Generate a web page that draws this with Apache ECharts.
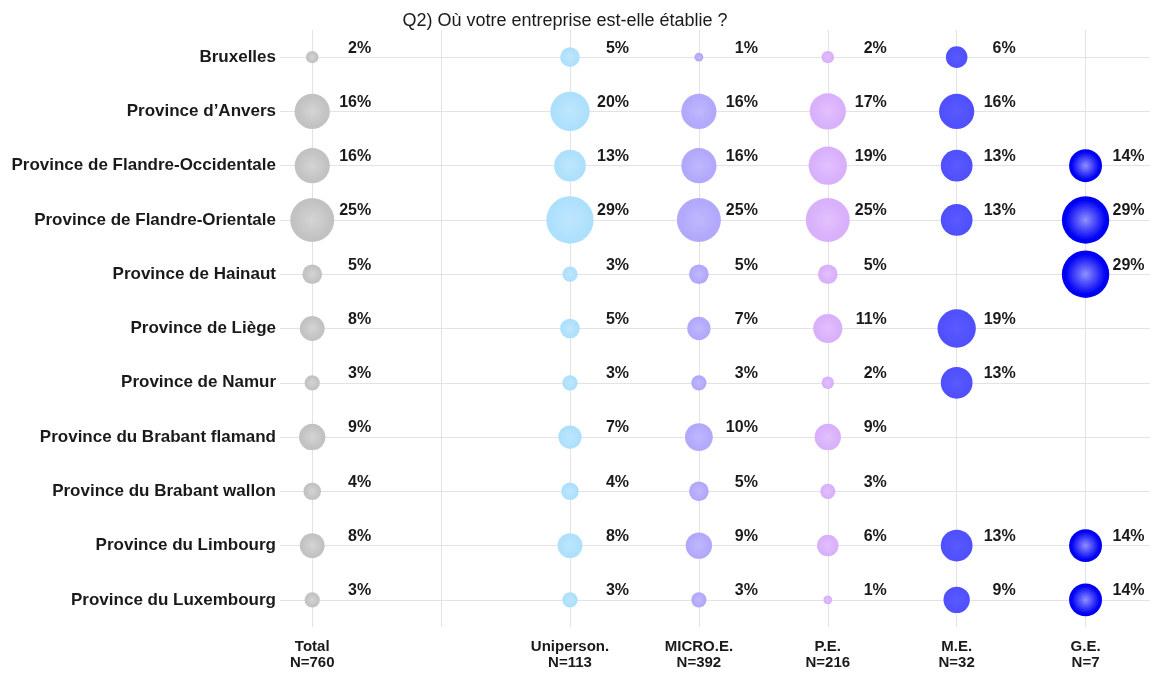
<!DOCTYPE html>
<html>
<head>
<meta charset="utf-8">
<script src="https://cdn.jsdelivr.net/npm/echarts@6/dist/echarts.min.js"></script>
<style>html,body{margin:0;padding:0;background:#fff}#c{width:1153px;height:673px}</style>
</head>
<body>
<div id="c"></div>
<script>
const titleText = 'Q2) Où votre entreprise est-elle établie ?';
const rows = ['Bruxelles', 'Province d\u2019Anvers', 'Province de Flandre-Occidentale', 'Province de Flandre-Orientale',
  'Province de Hainaut', 'Province de Liège', 'Province de Namur', 'Province du Brabant flamand',
  'Province du Brabant wallon', 'Province du Limbourg', 'Province du Luxembourg'];
const columns = ['Total\nN=760', '', 'Uniperson.\nN=113', 'MICRO.E.\nN=392', 'P.E.\nN=216', 'M.E.\nN=32', 'G.E.\nN=7'];
const total      = [2, 16, 16, 25, 5, 8, 3, 9, 4, 8, 3];
const uniperson  = [5, 20, 13, 29, 3, 5, 3, 7, 4, 8, 3];
const micro      = [1, 16, 16, 25, 5, 7, 3, 10, 5, 9, 3];
const pe         = [2, 17, 19, 25, 5, 11, 2, 9, 3, 6, 1];
const me         = [6, 16, 13, 13, null, 19, 13, null, null, 13, 9];
const ge         = [null, null, 14, 29, 29, null, null, null, null, 14, 14];

const seriesDefs = [
  {name: 'Total', col: 0, vals: total, c0: '#d4d4d4', c1: '#c2c2c2'},
  {name: 'Uniperson.', col: 2, vals: uniperson, c0: '#bfe6fd', c1: '#ade0fc'},
  {name: 'MICRO.E.', col: 3, vals: micro, c0: '#c0b8fd', c1: '#b2a8fc'},
  {name: 'P.E.', col: 4, vals: pe, c0: '#e2c0fd', c1: '#d8b0fc'},
  {name: 'M.E.', col: 5, vals: me, c0: '#5a5aff', c1: '#5050ff'},
  {name: 'G.E.', col: 6, vals: ge, c0: '#9090ff', c1: '#0000f5'}
];

const chart = echarts.init(document.getElementById('c'), null, {renderer: 'canvas'});

const series = seriesDefs.map(d => ({
  type: 'scatter',
  name: d.name,
  z: 3,
  data: d.vals.map((v, i) => v == null ? null : [d.col, rows[i], v]).filter(x => x),
  symbolSize: p => 8.8 * Math.sqrt(p[2]),
  itemStyle: {
    opacity: 1,
    color: {type: 'radial', x: 0.5, y: 0.5, r: 0.5,
      colorStops: [{offset: 0, color: d.c0}, {offset: 0.85, color: d.c1}, {offset: 1, color: d.c1}]}
  },
  label: {
    show: true, position: 'inside', align: 'right', verticalAlign: 'middle',
    offset: [59, -9],
    formatter: p => p.value[2] + '%',
    fontFamily: 'Liberation Sans, Arial, sans-serif', fontWeight: 'bold', fontSize: 16, color: '#1a1a1a'
  },
  emphasis: {disabled: true}
}));

series.unshift({
  type: 'scatter', data: [], silent: true, z: 1,
  markLine: {
    silent: true, symbol: 'none', animation: false, z: 1,
    label: {show: false},
    lineStyle: {color: '#e3e3e3', width: 1, type: 'solid'},
    data: columns.map((c, i) => ({xAxis: i})).concat(rows.map(r => ({yAxis: r})))
  }
});

chart.setOption({
  animation: false,
  title: {text: titleText, left: 560, top: 7, textAlign: 'center',
    textStyle: {fontFamily: 'Liberation Sans, Arial, sans-serif', fontWeight: 'normal', fontSize: 18, color: '#1a1a1a'}},
  grid: {left: 280, right: 3, top: 30, bottom: 46},
  xAxis: {
    type: 'value', min: -0.25, max: 6.5, interval: 0.25,
    axisLine: {show: false}, axisTick: {show: false}, splitLine: {show: false},
    axisLabel: {
      margin: 12, lineHeight: 16,
      formatter: v => (Math.abs(v - Math.round(v)) < 1e-6 && Math.round(v) >= 0 && Math.round(v) < columns.length) ? columns[Math.round(v)] : '',
      fontFamily: 'Liberation Sans Narrow, Arial Narrow, Liberation Sans, sans-serif', fontWeight: 'bold', fontSize: 15, color: '#1a1a1a'
    }
  },
  yAxis: {
    type: 'category', data: rows, inverse: true, boundaryGap: true,
    axisLine: {show: false}, axisTick: {show: false}, splitLine: {show: false},
    axisLabel: {margin: 4, fontFamily: 'Liberation Sans, Arial, sans-serif', fontWeight: 'bold', fontSize: 17, color: '#1a1a1a'}
  },
  series: series
});
</script>
</body>
</html>
